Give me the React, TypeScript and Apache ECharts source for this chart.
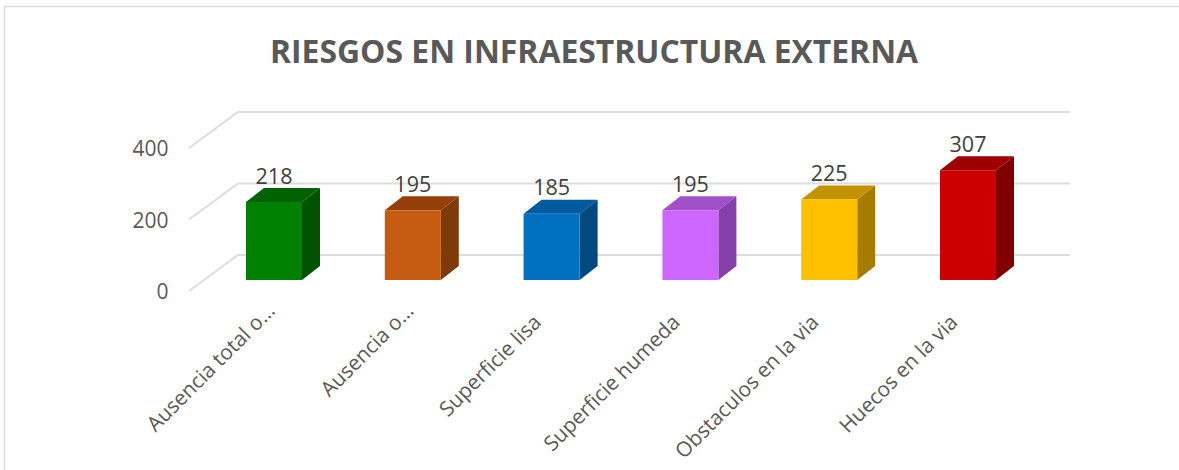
import React, { useEffect, useRef } from "react";
import * as echarts from "echarts";

const titleText = "RIESGOS EN INFRAESTRUCTURA EXTERNA";
const categories = [
  "Ausencia total o…",
  "Ausencia o…",
  "Superficie lisa",
  "Superficie humeda",
  "Obstaculos en la via",
  "Huecos en la via",
];
const values = [218, 195, 185, 195, 225, 307];
const frontColors = ["#008000", "#C55A11", "#0070C0", "#CC66FF", "#FFC000", "#CC0000"];
const topColors = ["#006200", "#943F0A", "#005A9E", "#A050C8", "#C29200", "#9E0000"];
const sideColors = ["#005200", "#7F3A0A", "#004A80", "#843FA8", "#A47C00", "#800000"];
const ticks = [0, 200, 400];

const FONT = "'Open Sans', sans-serif";

export default function App() {
  const ref = useRef<HTMLDivElement>(null);
  useEffect(() => {
    document.body.style.margin = "0";
    const chart = echarts.init(ref.current!, null, { renderer: "svg" });
    const wallDx = 49;
    const wallDy = 36;
    const barW = 56;
    const depthX = 18;
    const depthY = 14;
    const lift = 11;
    const gridColor = "#DDDDDD";

    chart.setOption({
      animation: false,
      backgroundColor: "#ffffff",
      title: {
        text: titleText,
        left: 589,
        top: 29,
        textAlign: "center",
        textStyle: { fontFamily: FONT, fontSize: 31.9, fontWeight: 700, color: "#595959" },
      },
      graphic: [
        {
          type: "polyline",
          silent: true,
          z: -1,
          shape: { points: [[4.5, 470], [4.5, 6.5], [1179, 6.5]] },
          style: { fill: "none", stroke: "#DDDDDD", lineWidth: 1.5 },
        },
      ],
      grid: { left: 204.6, width: 832.8, top: 148, height: 143 },
      xAxis: {
        type: "category",
        data: categories.map((c) => ({
          value: c,
          textStyle: { padding: [0, c.endsWith("…") ? 5 : 21, 0, 0] },
        })),
        axisLine: { show: false },
        axisTick: { show: false },
        splitLine: { show: false },
        axisLabel: {
          interval: 0,
          rotate: 45,
          margin: 12,
          fontFamily: FONT,
          fontSize: 20.8,
          color: "#595959",
        },
      },
      yAxis: {
        type: "value",
        min: 0,
        max: 400,
        interval: 200,
        axisLine: { show: false },
        axisTick: { show: false },
        splitLine: { show: false },
        axisLabel: { margin: 36, fontFamily: FONT, fontSize: 21, color: "#595959" },
      },
      series: [
        {
          type: "custom",
          silent: true,
          z: 1,
          clip: false,
          encode: { x: 0, y: 1 },
          data: ticks.map((t) => [0, t]),
          renderItem: (params: any, api: any) => {
            const y = api.coord([0, api.value(1)])[1];
            const x0 = params.coordSys.x - 15.6;
            const right = 1070;
            return {
              type: "polyline",
              shape: {
                points: [
                  [x0, y],
                  [x0 + wallDx, y - wallDy],
                  [right, y - wallDy],
                ],
              },
              style: { fill: "none", stroke: gridColor, lineWidth: 2 },
            };
          },
        },
        {
          type: "custom",
          z: 2,
          clip: false,
          encode: { x: 0, y: 1 },
          data: values.map((v, i) => [i, v]),
          renderItem: (_params: any, api: any) => {
            const i = api.value(0);
            const v = api.value(1);
            const top = api.coord([i, v]);
            const base = api.coord([i, 0]);
            const xl = top[0] - barW / 2;
            const xr = top[0] + barW / 2;
            const yt = top[1] - lift;
            const yb = base[1] - lift;
            return {
              type: "group",
              children: [
                {
                  type: "polygon",
                  shape: { points: [[xr, yt], [xr + depthX, yt - depthY], [xr + depthX, yb - depthY], [xr, yb]] },
                  style: { fill: sideColors[i] },
                },
                {
                  type: "polygon",
                  shape: { points: [[xl, yt], [xl + depthX, yt - depthY], [xr + depthX, yt - depthY], [xr, yt]] },
                  style: { fill: topColors[i] },
                },
                {
                  type: "rect",
                  shape: { x: xl, y: yt, width: barW, height: yb - yt },
                  style: { fill: frontColors[i] },
                },
                {
                  type: "text",
                  style: {
                    text: String(v),
                    x: top[0],
                    y: yt - 27,
                    align: "center",
                    verticalAlign: "middle",
                    fontFamily: FONT,
                    fontSize: 21.5,
                    fill: "#404040",
                  },
                },
              ],
            };
          },
        },
      ],
    });
    return () => chart.dispose();
  }, []);
  return <div ref={ref} style={{ width: 1179, height: 470 }} />;
}
